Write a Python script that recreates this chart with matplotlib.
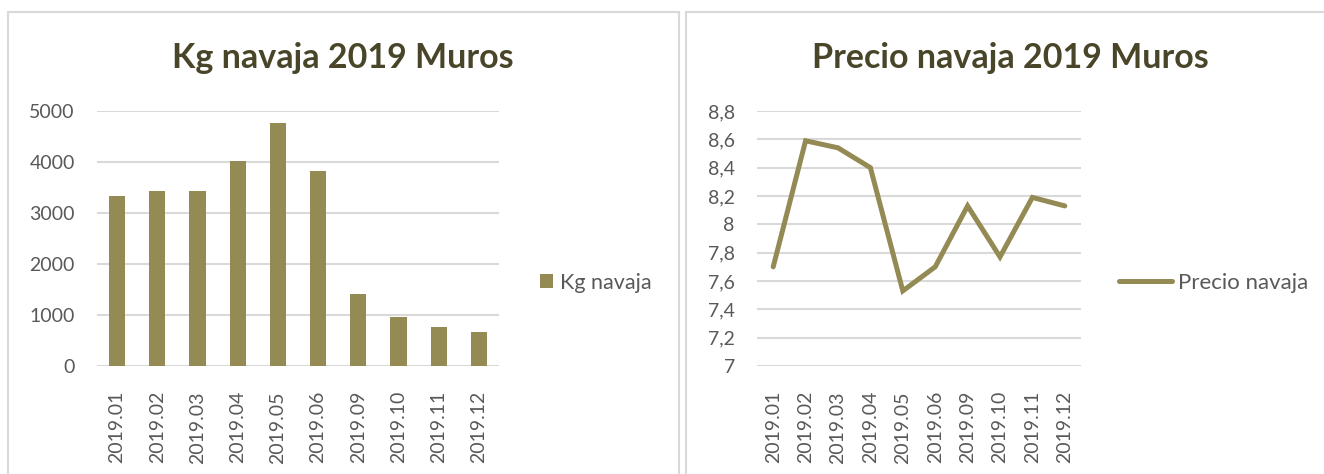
import matplotlib
matplotlib.use("Agg")
import matplotlib.pyplot as plt
from matplotlib.patches import Rectangle
from matplotlib.ticker import FuncFormatter, MultipleLocator

plt.rcParams['font.family'] = ['Lato', 'DejaVu Sans']

meses = ['2019.01', '2019.02', '2019.03', '2019.04', '2019.05',
         '2019.06', '2019.09', '2019.10', '2019.11', '2019.12']
kg_navaja = [3333, 3431, 3431, 4016, 4757, 3832, 1417, 968, 774, 670]
precio_navaja = [7.70, 8.59, 8.54, 8.40, 7.53, 7.70, 8.13, 7.77, 8.19, 8.13]

olive = '#948A54'
title_col = '#494529'
tick_col = '#595959'
grid_col = '#D9D9D9'

W, H = 1324, 474
fig = plt.figure(figsize=(W / 100, H / 100), dpi=100)

# chart frames
for x0, x1 in [(8, 679), (686, 1330)]:
    fig.patches.append(Rectangle((x0 / W, -0.05), (x1 - x0) / W, (H - 12) / H + 0.05,
                                 transform=fig.transFigure, fill=False,
                                 edgecolor=grid_col, linewidth=1.5))


def style(ax):
    for s in ax.spines.values():
        s.set_visible(False)
    ax.grid(axis='y', color=grid_col, linewidth=1.5)
    ax.set_axisbelow(True)
    ax.tick_params(axis='both', length=0, labelsize=14, colors=tick_col)
    ax.tick_params(axis='y', pad=16)
    ax.tick_params(axis='x', pad=18)
    ax.set_xlim(-0.5, len(meses) - 0.5)
    ax.set_xticks(range(len(meses)))
    ax.set_xticklabels(meses, rotation=90)


# left: bars
ax1 = fig.add_axes([97 / W, 1 - 366 / H, 402 / W, 255 / H])
ax1.bar(range(len(meses)), kg_navaja, width=0.4, color=olive, label='Kg navaja')
ax1.set_ylim(0, 5000)
ax1.yaxis.set_major_locator(MultipleLocator(1000))
style(ax1)
fig.text(343 / W, 1 - 58 / H, 'Kg navaja 2019 Muros', ha='center', va='center',
         fontsize=24.5, fontweight='bold', color=title_col)
ax1.legend(loc='center left', bbox_to_anchor=(540 / W, 1 - 283 / H),
           bbox_transform=fig.transFigure, frameon=False, fontsize=15.5,
           handlelength=0.62, handleheight=0.62, handletextpad=0.3,
           borderpad=0, borderaxespad=0, labelcolor=tick_col)

# right: line
ax2 = fig.add_axes([757 / W, 1 - 366 / H, 324 / W, 255 / H])
ax2.plot(range(len(meses)), precio_navaja, color=olive, linewidth=3.6,
         solid_joinstyle='miter', solid_capstyle='round', label='Precio navaja')
ax2.set_ylim(7, 8.8)
ax2.yaxis.set_major_locator(MultipleLocator(0.2))
ax2.yaxis.set_major_formatter(FuncFormatter(lambda v, p: ('%g' % round(v, 1)).replace('.', ',')))
style(ax2)
fig.text(1010 / W, 1 - 58 / H, 'Precio navaja 2019 Muros', ha='center', va='center',
         fontsize=24.5, fontweight='bold', color=title_col)
ax2.legend(loc='center left', bbox_to_anchor=(1119 / W, 1 - 283 / H),
           bbox_transform=fig.transFigure, frameon=False, fontsize=16,
           handlelength=2.4, handletextpad=0.25, borderpad=0, borderaxespad=0,
           labelcolor=tick_col)

fig.savefig('out.png', dpi=100, facecolor='white')
